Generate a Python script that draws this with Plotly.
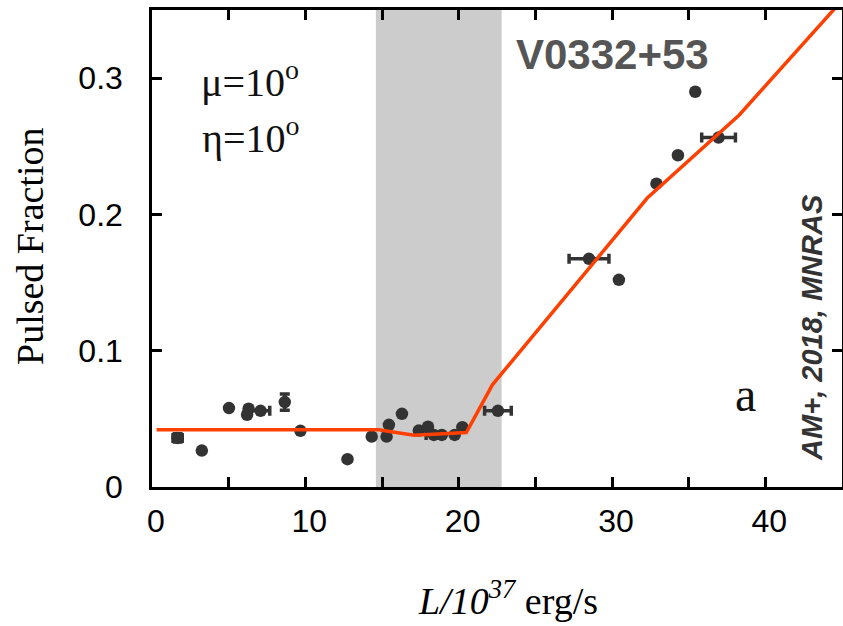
import plotly.graph_objects as go

# ---- data ----
lum = [1.67, 3.25, 5.02, 6.3, 6.2, 7.08, 8.66, 9.68, 12.75, 14.33, 15.3, 15.45, 16.3,
       17.4, 18.0, 18.38, 18.9, 19.74, 20.24, 22.56, 28.5, 30.45, 32.9, 34.3, 35.43, 36.95]
pf = [0.036, 0.0267, 0.0579, 0.0574, 0.053, 0.0559, 0.0623, 0.0412, 0.0204, 0.037, 0.037,
      0.0456, 0.0537, 0.0414, 0.0443, 0.0382, 0.0382, 0.0382, 0.0439, 0.0559, 0.1674,
      0.152, 0.2226, 0.2434, 0.290, 0.2564]
lum_err = [0.3, 0, 0, 0, 0, 0.6, 0, 0, 0, 0, 0, 0, 0, 0, 0, 0.5, 0, 0, 0, 0.87, 1.3,
           0, 0, 0, 0, 1.1]
pf_err = [0.003, 0, 0, 0, 0, 0, 0.006, 0, 0, 0, 0, 0, 0, 0, 0, 0, 0, 0, 0, 0, 0,
          0, 0, 0, 0, 0]

model_lum = [0.3, 14.8, 15.6, 17.1, 20.5, 21.7, 22.2, 32.3, 38.3, 45.0]
model_pf = [0.042, 0.042, 0.0405, 0.038, 0.040, 0.065, 0.075, 0.212, 0.273, 0.357]

band = [14.6, 22.8]

x_tickvals = [0, 5, 10, 15, 20, 25, 30, 35, 40, 45]
x_ticktext = ["0", "", "10", "", "20", "", "30", "", "40", ""]
y_tickvals = [0, 0.1, 0.2, 0.3]
y_ticktext = ["0", "0.1", "0.2", "0.3"]

fig = go.Figure()

fig.add_shape(type="rect", xref="x", yref="paper", x0=band[0], x1=band[1], y0=0, y1=1,
              fillcolor="#cccccc", line_width=0, layer="below")

fig.add_trace(go.Scatter(
    x=lum, y=pf, mode="markers",
    marker=dict(color="#333333", size=12.5),
    error_x=dict(type="data", array=lum_err, color="#333333", thickness=3.5, width=5),
    error_y=dict(type="data", array=pf_err, color="#333333", thickness=3.5, width=5),
    showlegend=False,
))

fig.add_trace(go.Scatter(
    x=model_lum, y=model_pf, mode="lines",
    line=dict(color="#ff4000", width=3.5),
    showlegend=False,
))

axis_common = dict(showline=True, linecolor="black", linewidth=2.5, mirror="ticks",
                   ticks="inside", ticklen=10, tickwidth=2.5, tickcolor="black",
                   showgrid=False, zeroline=False, automargin=False,
                   tickfont=dict(family="Liberation Sans, Arial", size=32, color="black"))

fig.update_xaxes(range=[0, 45], tickmode="array", tickvals=x_tickvals, ticktext=x_ticktext,
                 ticklabelstandoff=4, ticklabelshift=4, **axis_common)
fig.update_yaxes(range=[0, 0.35], tickmode="array", tickvals=y_tickvals, ticktext=y_ticktext,
                 ticklabelstandoff=20, **axis_common)

serif = "Liberation Serif, Times New Roman, serif"
annotations = [
    dict(x=6.4, y=0.299, xref="x", yref="y", text="μ=10<sup>o</sup>", showarrow=False,
         font=dict(family=serif, size=40, color="#111111")),
    dict(x=6.4, y=0.258, xref="x", yref="y", text="η=10<sup>o</sup>", showarrow=False,
         font=dict(family=serif, size=40, color="#111111")),
    dict(x=30.0, y=0.3176, xref="x", yref="y", text="<b>V0332+53</b>", showarrow=False,
         font=dict(family="Liberation Sans, Arial", size=42, color="#555555")),
    dict(x=38.7, y=0.068, xref="x", yref="y", text="a", showarrow=False,
         font=dict(family=serif, size=48, color="#111111")),
    dict(x=43.0, y=0.117, xref="x", yref="y", text="<b><i>AM+, 2018, MNRAS</i></b>",
         showarrow=False, textangle=-90,
         font=dict(family="Liberation Sans, Arial", size=29, color="#333333")),
    dict(x=(508 - 152) / 690, y=-(598 - 487) / 477, xref="paper", yref="paper",
         xanchor="center", yanchor="middle",
         text="<i>L/10<sup>37</sup></i> erg/s", showarrow=False,
         font=dict(family=serif, size=38, color="black")),
    dict(x=-(152 - 30) / 690, y=(487 - 247) / 477, xref="paper", yref="paper",
         xanchor="center", yanchor="middle",
         text="Pulsed Fraction", showarrow=False, textangle=-90,
         font=dict(family=serif, size=38, color="black")),
]
fig.update_layout(
    template="none",
    width=843, height=626,
    margin=dict(l=152, r=1, t=10, b=139),
    paper_bgcolor="white", plot_bgcolor="white",
    annotations=annotations,
)

fig.write_html("out.html", config={"displayModeBar": False},
               post_script="document.body.style.margin='0px';document.body.style.overflow='hidden';")
